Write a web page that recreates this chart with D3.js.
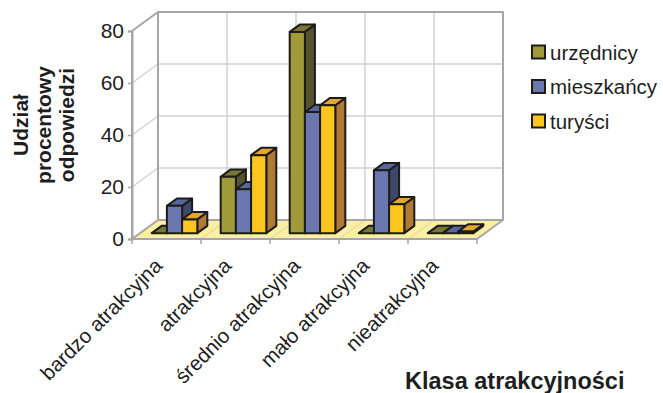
<!DOCTYPE html>
<html>
<head>
<meta charset="utf-8">
<script src="https://cdn.jsdelivr.net/npm/d3@7"></script>
<style>
  body { margin: 0; background: #fff; }
  text { font-family: "Liberation Sans", Arial, sans-serif; fill: #1e1e1e; }
</style>
</head>
<body>
<svg id="chart" width="663" height="393"></svg>
<script>
// Category labels, series and values (percent of answers)
const categories = ["bardzo atrakcyjna", "atrakcyjna", "średnio atrakcyjna", "mało atrakcyjna", "nieatrakcyjna"];
const seriesNames = ["urzędnicy", "mieszkańcy", "turyści"];
const urzednicy  = [0, 21.7, 77.4, 0, 0];
const mieszkancy = [10.5, 16.9, 46.6, 24.2, 0];
const turysci    = [5.3, 30.0, 49.2, 11.1, 0.6];
const yTicks = [0, 20, 40, 60, 80];
const yTitleLines = ["Udział", "procentowy", "odpowiedzi"];
const xTitle = "Klasa atrakcyjności";

const seriesValues = [urzednicy, mieszkancy, turysci];

// Face colours: front, top, side
const palette = [
  { front: "#a09a3b", top: "#7b7634", side: "#575330" },
  { front: "#6b78b0", top: "#5866a0", side: "#3e486b" },
  { front: "#fcc61f", top: "#e3a82a", side: "#b07936" }
];

const svg = d3.select("#chart");

// Oblique 3D projection: front plane + depth vector
const DX = 26, DY = -19;
const F0 = 0.3075, F1 = 0.6925;   // bar front/back depth fractions

const x = d3.scaleBand().domain(categories).range([132, 477]);
const x1 = d3.scaleBand().domain(seriesNames).range([0, x.bandwidth()])
  .paddingInner(0).paddingOuter(0.77);
const y = d3.scaleLinear().domain([0, 80]).range([239, 31]);

const wallStroke = "#a6a6a6", gridStroke = "#d2d2d2";
const xL = x.range()[0], xR = x.range()[1];
const pts = a => a.map(p => p.join(",")).join(" ");

// Back wall
svg.append("rect")
  .attr("x", xL + DX).attr("y", y(80) + DY)
  .attr("width", xR - xL).attr("height", y(0) - y(80))
  .attr("fill", "#fff");

// Left wall
svg.append("polygon")
  .attr("points", pts([[xL, y(0)], [xL, y(80)], [xL + DX, y(80) + DY], [xL + DX, y(0) + DY]]))
  .attr("fill", "#fff");

// Floor
svg.append("polygon")
  .attr("points", pts([[xL, y(0)], [xR, y(0)], [xR + DX, y(0) + DY], [xL + DX, y(0) + DY]]))
  .attr("fill", "#faefa2");

const boundaries = categories.map(c => x(c)).concat([xR]);
const inner = boundaries.slice(1, -1);

// Grid on back wall (horizontal) and left wall (diagonal)
const grid = svg.append("g").attr("stroke", gridStroke).attr("stroke-width", 1.5).attr("fill", "none");
yTicks.filter(v => v > 0 && v < 80).forEach(v => {
  grid.append("line").attr("x1", xL + DX).attr("x2", xR + DX)
    .attr("y1", y(v) + DY).attr("y2", y(v) + DY);
  grid.append("line").attr("x1", xL).attr("x2", xL + DX)
    .attr("y1", y(v)).attr("y2", y(v) + DY);
});
// Vertical grid on back wall and its continuation across the floor
inner.forEach(b => {
  grid.append("line").attr("x1", b + DX).attr("x2", b + DX)
    .attr("y1", y(80) + DY).attr("y2", y(0) + DY);
  grid.append("line").attr("x1", b).attr("x2", b + DX)
    .attr("y1", y(0)).attr("y2", y(0) + DY).attr("stroke", "#e6dca6");
});

// Wall and floor outlines
const edges = svg.append("g").attr("stroke", wallStroke).attr("stroke-width", 2)
  .attr("fill", "none").attr("stroke-linejoin", "round");
edges.append("polyline").attr("points", pts([
  [xL, y(0)], [xL, y(80)], [xL + DX, y(80) + DY], [xR + DX, y(80) + DY], [xR + DX, y(0) + DY]
]));
edges.append("polyline").attr("points", pts([[xL, y(0)], [xL + DX, y(0) + DY], [xL + DX, y(80) + DY]]));
edges.append("polyline").attr("points", pts([[xL, y(0)], [xR, y(0)], [xR + DX, y(0) + DY], [xL + DX, y(0) + DY]]));

// Y axis
const yAxis = svg.append("g").attr("transform", `translate(${xL},0)`)
  .call(d3.axisLeft(y).tickValues(yTicks).tickSize(4).tickPadding(4));
yAxis.select(".domain").attr("stroke", wallStroke).attr("stroke-width", 2);
yAxis.selectAll(".tick line").attr("stroke", wallStroke).attr("stroke-width", 1.5);
yAxis.selectAll(".tick text").attr("font-size", 21).attr("fill", "#1e1e1e")
  .attr("font-family", '"Liberation Sans", Arial, sans-serif');

// X axis: ticks on category boundaries, labels at category centres
svg.append("g").selectAll("line").data(boundaries).join("line")
  .attr("x1", d => d).attr("x2", d => d)
  .attr("y1", y(0)).attr("y2", y(0) + 5)
  .attr("stroke", wallStroke).attr("stroke-width", 1.5);

const xAxis = svg.append("g").attr("transform", `translate(0,${y(0)})`)
  .call(d3.axisBottom(x).tickSize(0));
xAxis.select(".domain").remove();
xAxis.selectAll(".tick text")
  .attr("font-size", 20.5).attr("fill", "#1e1e1e")
  .attr("font-family", '"Liberation Sans", Arial, sans-serif')
  .attr("text-anchor", "end")
  .attr("x", 0).attr("y", 0).attr("dy", 0)
  .attr("transform", "translate(-3,28) rotate(-45)");

// Bars
const ddx = DX * (F1 - F0), ddy = DY * (F1 - F0);
const bars = svg.append("g").attr("stroke", "#1c1c1c").attr("stroke-width", 2)
  .attr("stroke-linejoin", "round");
categories.forEach((c, i) => {
  seriesNames.forEach((s, j) => {
    const v = seriesValues[j][i];
    const col = palette[j];
    const bx = x(c) + x1(s) + DX * F0;
    const w = x1.bandwidth();
    const yb = y(0) + DY * F0;
    const yt = y(v) + DY * F0;
    const g = bars.append("g");
    g.append("polygon").attr("fill", col.side)
      .attr("points", pts([[bx + w, yt], [bx + w + ddx, yt + ddy], [bx + w + ddx, yb + ddy], [bx + w, yb]]));
    g.append("polygon").attr("fill", col.top)
      .attr("points", pts([[bx, yt], [bx + w, yt], [bx + w + ddx, yt + ddy], [bx + ddx, yt + ddy]]));
    g.append("rect").attr("fill", col.front)
      .attr("x", bx).attr("y", yt).attr("width", w).attr("height", yb - yt);
  });
});

// Y axis title, three centred lines
yTitleLines.forEach((line, k) => {
  svg.append("text")
    .attr("font-size", 21).attr("font-weight", "bold").attr("text-anchor", "middle")
    .attr("transform", `translate(${28 + k * 23},125) rotate(-90)`)
    .text(line);
});

// X axis title
svg.append("text").attr("x", 405).attr("y", 389)
  .attr("font-size", 23.5).attr("font-weight", "bold").text(xTitle);

// Legend
const legend = svg.append("g").selectAll("g").data(seriesNames).join("g")
  .attr("transform", (d, k) => `translate(532,${52 + k * 34.5})`);
legend.append("rect").attr("x", 0).attr("y", -6.5).attr("width", 13).attr("height", 13)
  .attr("fill", (d, k) => palette[k].front).attr("stroke", "#1c1c1c").attr("stroke-width", 2);
legend.append("text").attr("x", 18).attr("y", 7.5).attr("font-size", 20.5).text(d => d);
</script>
</body>
</html>
